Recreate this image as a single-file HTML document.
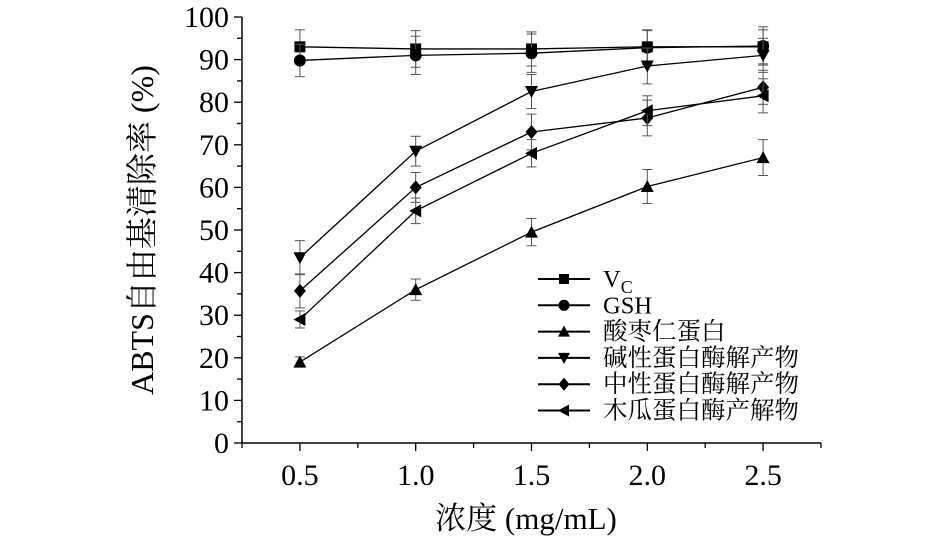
<!DOCTYPE html>
<html><head><meta charset="utf-8"><style>
html,body{margin:0;padding:0;background:#fff;}
svg text{font-family:"Liberation Serif","Noto Serif CJK SC",serif;fill:#000;}
</style></head><body>
<svg id="chart" width="945" height="539" viewBox="0 0 945 539" xmlns="http://www.w3.org/2000/svg"></svg>
<script>
const xValues=[0.5,1.0,1.5,2.0,2.5];
const xTickLabels=["0.5","1.0","1.5","2.0","2.5"];
const yTickLabels=["0","10","20","30","40","50","60","70","80","90","100"];
const seriesNames=["V_C","GSH","酸枣仁蛋白","碱性蛋白酶解产物","中性蛋白酶解产物","木瓜蛋白酶产解物"];
const vcVals=[93,92.5,92.5,93,93];
const vcErr=[4,4.3,4,4,4];
const gshVals=[89.8,91,91.5,92.8,93.2];
const gshErr=[3.8,4.5,4.5,4,4.5];
const zizVals=[19,36,49.5,60.2,67];
const zizErr=[1.2,2.5,3.2,4,4.2];
const alkVals=[43.5,68.5,82.5,88.5,91];
const alkErr=[4,3.5,4,4.2,4];
const neuVals=[35.7,60,73,76.3,83.5];
const neuErr=[4,3.5,4.2,4.2,4];
const papVals=[29,54.5,68,78,81.5];
const papErr=[2,3,3.2,3.5,4];
const markers=["square","circle","up","down","diamond","left"];

const svg=document.getElementById('chart');
const NS="http://www.w3.org/2000/svg";
const X0=242,X1=821,Y0=443,Y1=17;
function xs(v){return X0+(v-0.25)/2.5*(X1-X0);}
function ys(v){return Y0-v/100*(Y0-Y1);}
function mk(tag,attrs,parent){const e=document.createElementNS(NS,tag);for(const k in attrs)e.setAttribute(k,attrs[k]);(parent||svg).appendChild(e);return e;}

const axes=mk('g',{});


mk('line',{x1:X0,y1:Y0,x2:X1,y2:Y0,stroke:'#000','stroke-width':1.5},axes);
mk('line',{x1:X0,y1:Y0,x2:X0,y2:Y1,stroke:'#000','stroke-width':1.5},axes);
for(let i=0;i<=20;i++){const y=ys(i*5);mk('line',{x1:X0-(i%2?5:8),y1:y,x2:X0,y2:y,stroke:'#000','stroke-width':1.3},axes);}
for(let i=0;i<=10;i++){const v=0.25+i*0.25;const x=xs(v);const major=(i%2==1);mk('line',{x1:x,y1:Y0,x2:x,y2:Y0+(major?8:5),stroke:'#000','stroke-width':1.3},axes);}
yTickLabels.forEach((t,i)=>{const e=mk('text',{x:X0-13,y:ys(i*10)+10,'text-anchor':'end','font-size':30},axes);e.textContent=t;

});
xTickLabels.forEach((t,i)=>{const e=mk('text',{x:xs(xValues[i]),y:485,'text-anchor':'middle','font-size':30},axes);e.textContent=t;

});
const xt=mk('text',{x:526,y:529,'text-anchor':'middle','font-size':31});
xt.textContent='浓度 (mg/mL)';


const yt=mk('text',{x:0,y:0,'text-anchor':'middle','font-size':32,transform:'translate(153,230) rotate(-90)'});
yt.textContent='ABTS自由基清除率 (%)';



function marker(type,x,y,parent,s){s=s||5.5;
 if(type==='square')return mk('rect',{x:x-s,y:y-s,width:2*s,height:2*s,fill:'#000'},parent);
 if(type==='circle')return mk('circle',{cx:x,cy:y,r:s+0.5,fill:'#000'},parent);
 if(type==='up')return mk('polygon',{points:`${x},${y-s-1} ${x-s-1},${y+s} ${x+s+1},${y+s}`,fill:'#000'},parent);
 if(type==='down')return mk('polygon',{points:`${x},${y+s+1} ${x-s-1},${y-s} ${x+s+1},${y-s}`,fill:'#000'},parent);
 if(type==='diamond')return mk('polygon',{points:`${x},${y-s-1.5} ${x+s+0.5},${y} ${x},${y+s+1.5} ${x-s-0.5},${y}`,fill:'#000'},parent);
 if(type==='left')return mk('polygon',{points:`${x-s-1},${y} ${x+s},${y-s-1} ${x+s},${y+s+1}`,fill:'#000'},parent);
}
const allVals=[vcVals,gshVals,zizVals,alkVals,neuVals,papVals];
const allErr=[vcErr,gshErr,zizErr,alkErr,neuErr,papErr];
const sNames=['series-vc','series-gsh','series-ziziphus','series-alkaline','series-neutral','series-papain'];
allVals.forEach((vals,si)=>{
 const g=mk('g',{});
 
 
 const pts=vals.map((v,i)=>xs(xValues[i])+','+ys(v)).join(' ');
 mk('polyline',{points:pts,fill:'none',stroke:'#000','stroke-width':1.3},g);
 vals.forEach((v,i)=>{const x=xs(xValues[i]);const e=allErr[si][i];
  mk('line',{x1:x,y1:ys(v-e),x2:x,y2:ys(v+e),stroke:'#555','stroke-width':1},g);
  mk('line',{x1:x-5,y1:ys(v-e),x2:x+5,y2:ys(v-e),stroke:'#555','stroke-width':1},g);
  mk('line',{x1:x-5,y1:ys(v+e),x2:x+5,y2:ys(v+e),stroke:'#555','stroke-width':1},g);
  const m=marker(markers[si],x,ys(v),g);
  
  
 });
});
const lg=mk('g',{});


seriesNames.forEach((n,i)=>{const y=279+i*26.3;
 const en=mk('g',{},lg);
 
 
 mk('line',{x1:538,y1:y,x2:590,y2:y,stroke:'#000','stroke-width':2},en);
 marker(markers[i],564,y,en,5);
 const t=mk('text',{x:603,y:y+8,'font-size':24.5},en);
 if(n==='V_C'){t.textContent='V';const s=mk('tspan',{'font-size':18,dy:6},t);s.textContent='C';}
 else t.textContent=n;
});
</script>
</body></html>
